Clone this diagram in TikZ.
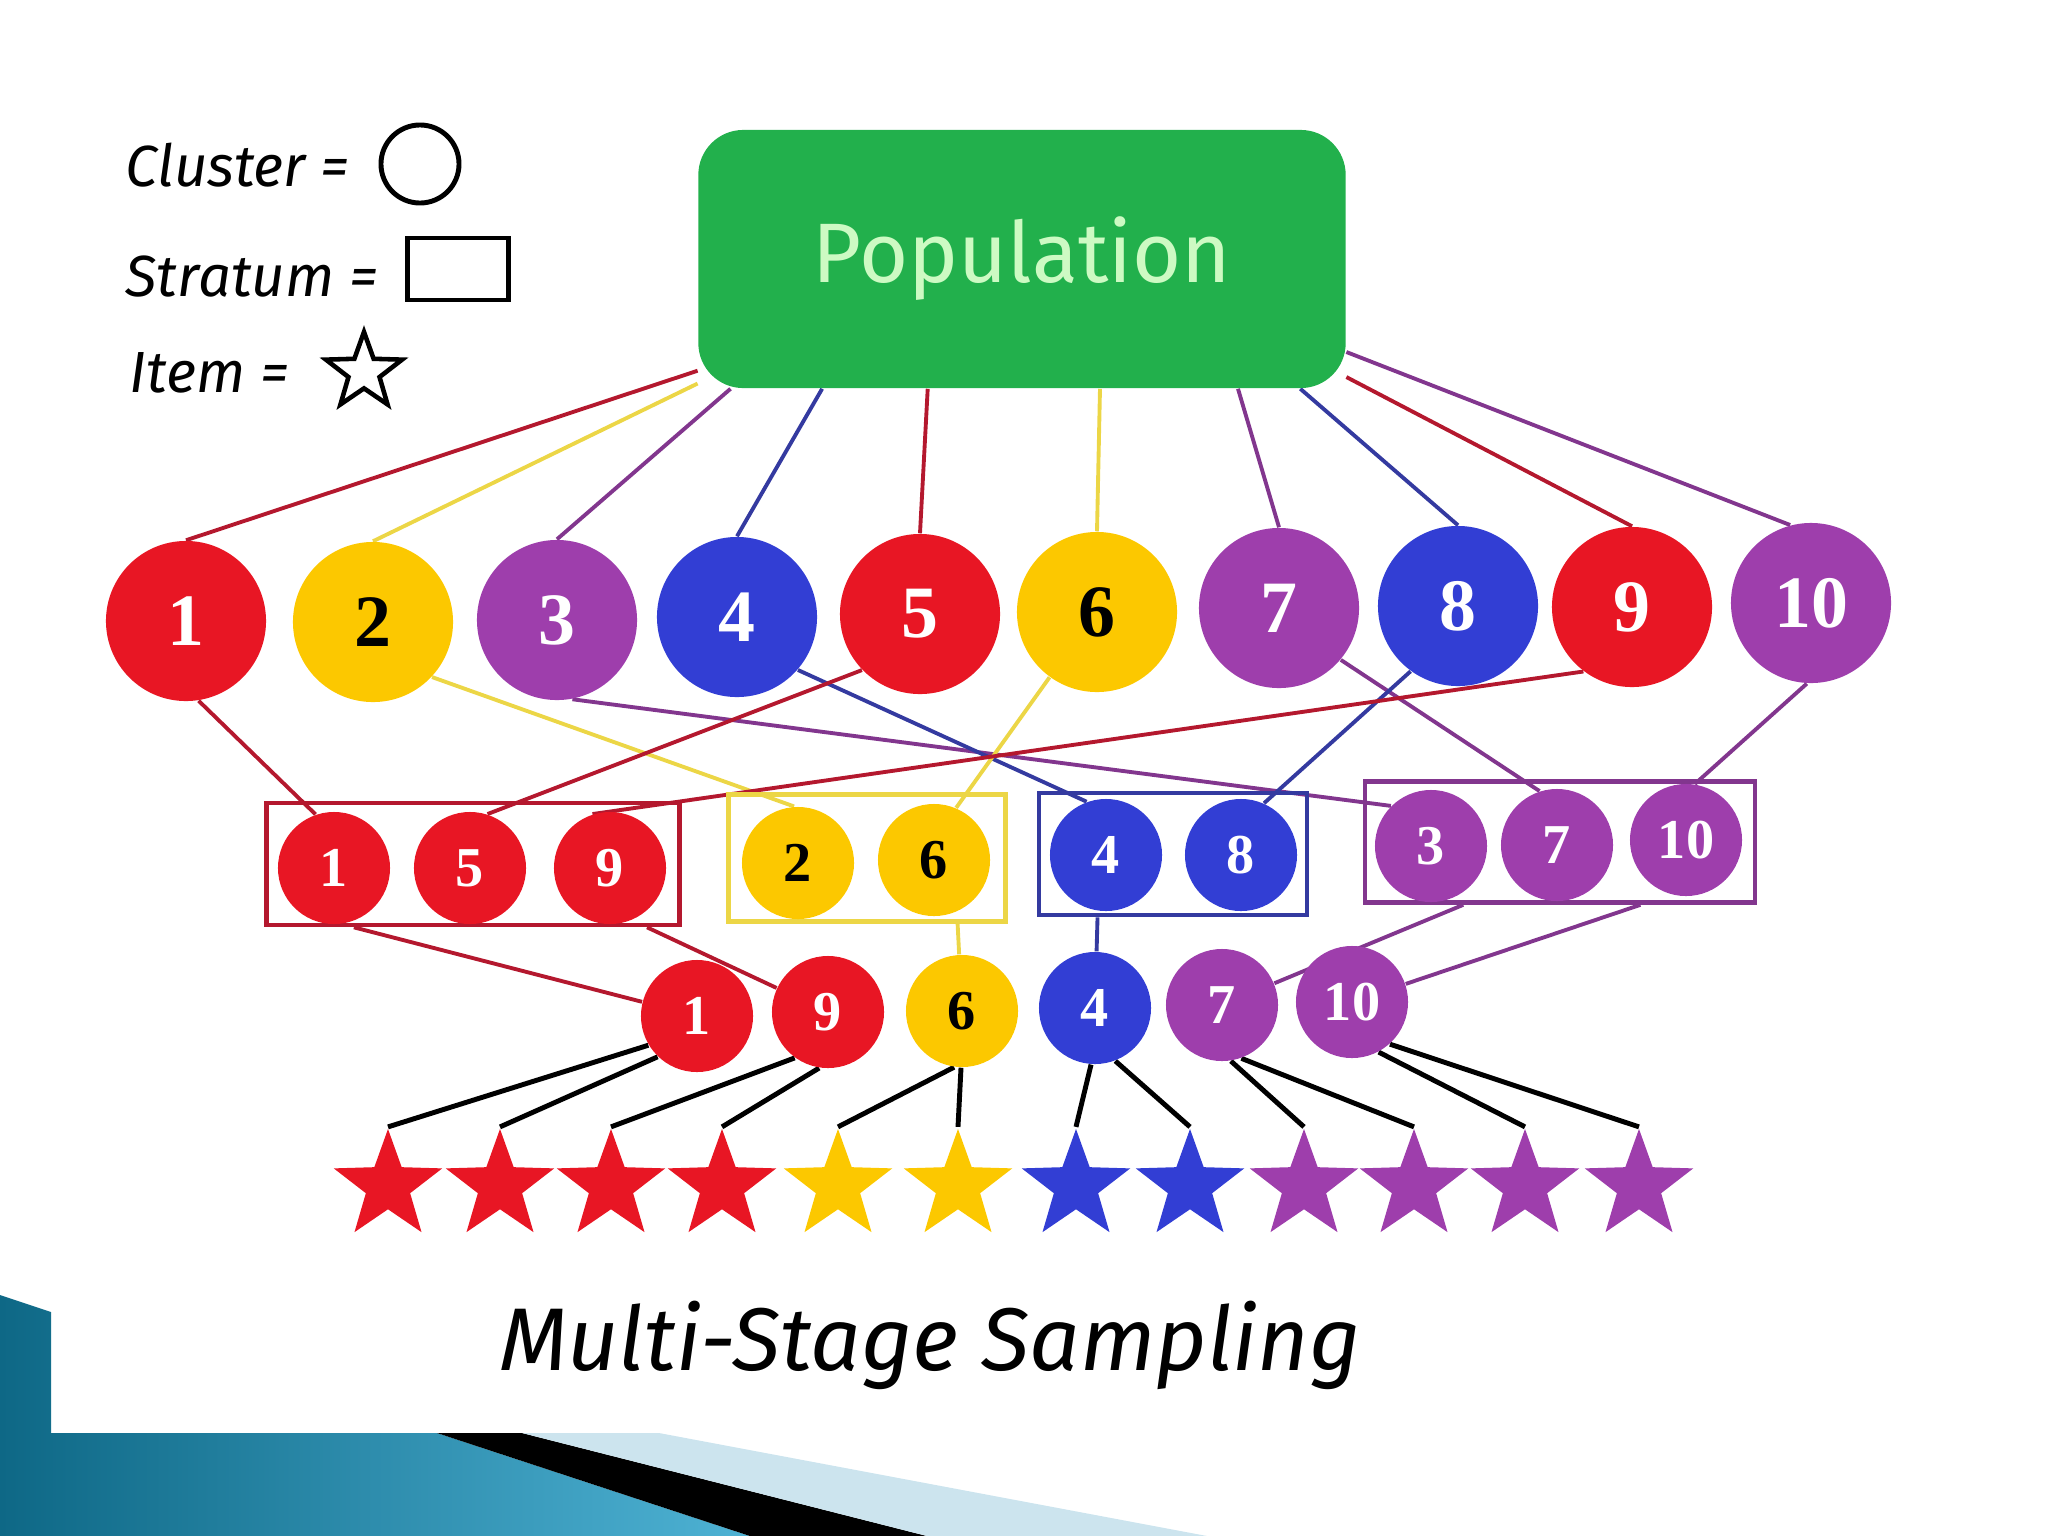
\documentclass[tikz,border=0pt]{standalone}
\usepackage{fontspec}
\usepackage{xcolor}
\usepackage{tikz}
\usetikzlibrary{shapes.geometric}
\newfontfamily\handfont{Fira Sans}
\newfontfamily\numfont{Liberation Serif}
\definecolor{cred}{RGB}{232,22,36}
\definecolor{cyellow}{RGB}{252,200,0}
\definecolor{cpurple}{RGB}{158,62,172}
\definecolor{cblue}{RGB}{50,62,212}
\definecolor{cgreen}{RGB}{34,176,76}
\definecolor{cmint}{RGB}{205,250,195}
\definecolor{clred}{RGB}{180,24,46}
\definecolor{clyellow}{RGB}{236,214,70}
\definecolor{clpurple}{RGB}{130,54,142}
\definecolor{clblue}{RGB}{52,58,160}
\definecolor{tealdark}{RGB}{14,104,134}
\definecolor{teallight}{RGB}{78,178,212}
\definecolor{palestripe}{RGB}{204,228,238}
\pgfdeclarelayer{back}
\pgfsetlayers{back,main}
\tikzstyle{bigclus} = [circle, minimum size=1.6cm, inner sep=0pt, text=white,
font=\numfont\bfseries\fontsize{21}{21}\selectfont]
\tikzstyle{smallclus} = [circle, minimum size=1.12cm, inner sep=0pt, text=white,
font=\numfont\bfseries\fontsize{16}{16}\selectfont]
\tikzstyle{stratum} = [rectangle, line width=1.3pt, inner sep=0pt]
\tikzstyle{item} = [star, star points=5, star point ratio=2.45, minimum size=1.14cm, inner sep=0pt]
\tikzstyle{legendtext} = [anchor=west, inner sep=0pt, font=\handfont\itshape\fontsize{16.5}{16.5}\selectfont]
\tikzstyle{link} = [line width=1.1pt]
\tikzstyle{pick} = [black, line width=1.4pt]

\begin{document}
\begin{tikzpicture}[x=0.01cm, y=-0.01cm]
        \useasboundingbox (0,0) rectangle (2048,1536);
        \shade[left color=tealdark, right color=teallight]
            (0,1295) -- (51,1312) -- (51,1433) -- (437,1433) -- (750,1536) -- (0,1536) -- cycle;
        \fill[black] (437,1433) -- (522,1433) -- (927,1536) -- (750,1536) -- cycle;
        \fill[palestripe] (522,1433) -- (659,1433) -- (1207,1536) -- (927,1536) -- cycle;

        \node[legendtext] (lclus) at (125,165) {Cluster =};
        \node[circle, draw, line width=1.4pt, minimum size=0.78cm] (lcirc) at (420,164) {};
        \node[legendtext] (lstrat) at (125,277) {Stratum =};
        \node[draw, line width=1.4pt, minimum width=1.01cm, minimum height=0.62cm] (lrect) at (458,269) {};
        \node[legendtext] (litem) at (129,373) {Item =};
        \node[item, draw, fill=white, line width=1.3pt, minimum size=0.8cm] (lstar) at (364,372) {};

        \node[rectangle, rounded corners=0.45cm, fill=cgreen, minimum width=6.47cm, minimum height=2.58cm,
            text=cmint, font=\handfont\fontsize{24}{24}\selectfont] (pop) at (1022,259) {Population};

        \node[bigclus, fill=cred] (t1) at (186,621) {1};
        \node[bigclus, fill=cyellow, text=black] (t2) at (373,622) {2};
        \node[bigclus, fill=cpurple] (t3) at (557,620) {3};
        \node[bigclus, fill=cblue] (t4) at (737,617) {4};
        \node[bigclus, fill=cred] (t5) at (920,614) {5};
        \node[bigclus, fill=cyellow, text=black] (t6) at (1097,612) {6};
        \node[bigclus, fill=cpurple] (t7) at (1279,608) {7};
        \node[bigclus, fill=cblue] (t8) at (1458,606) {8};
        \node[bigclus, fill=cred] (t9) at (1632,607) {9};
        \node[bigclus, fill=cpurple] (t10) at (1811,603) {10};

        \node[stratum, draw=clred, minimum width=4.13cm, minimum height=1.22cm] (rbox) at (473,864) {};
        \node[stratum, draw=clyellow, minimum width=2.77cm, minimum height=1.27cm] (ybox) at (867,858) {};
        \node[stratum, draw=clblue, minimum width=2.68cm, minimum height=1.22cm] (bbox) at (1173,854) {};
        \node[stratum, draw=clpurple, minimum width=3.90cm, minimum height=1.21cm] (pbox) at (1560,842) {};

        \node[smallclus, fill=cred] (m1) at (334,868) {1};
        \node[smallclus, fill=cred] (m5) at (470,868) {5};
        \node[smallclus, fill=cred] (m9) at (610,868) {9};
        \node[smallclus, fill=cyellow, text=black] (m2) at (798,863) {2};
        \node[smallclus, fill=cyellow, text=black] (m6) at (934,860) {6};
        \node[smallclus, fill=cblue] (m4) at (1106,855) {4};
        \node[smallclus, fill=cblue] (m8) at (1241,855) {8};
        \node[smallclus, fill=cpurple] (m3) at (1431,846) {3};
        \node[smallclus, fill=cpurple] (m7) at (1557,845) {7};
        \node[smallclus, fill=cpurple] (m10) at (1686,840) {10};

        \node[smallclus, fill=cred] (b1) at (697,1016) {1};
        \node[smallclus, fill=cred] (b9) at (828,1012) {9};
        \node[smallclus, fill=cyellow, text=black] (b6) at (962,1011) {6};
        \node[smallclus, fill=cblue] (b4) at (1095,1008) {4};
        \node[smallclus, fill=cpurple] (b7) at (1222,1005) {7};
        \node[smallclus, fill=cpurple] (b10) at (1352,1002) {10};

        \node[item, fill=cred] (s1) at (388,1186) {};
        \node[item, fill=cred] (s2) at (500,1186) {};
        \node[item, fill=cred] (s3) at (611,1186) {};
        \node[item, fill=cred] (s4) at (722,1186) {};
        \node[item, fill=cyellow] (s5) at (838,1186) {};
        \node[item, fill=cyellow] (s6) at (958,1186) {};
        \node[item, fill=cblue] (s7) at (1076,1186) {};
        \node[item, fill=cblue] (s8) at (1190,1186) {};
        \node[item, fill=cpurple] (s9) at (1304,1186) {};
        \node[item, fill=cpurple] (s10) at (1414,1186) {};
        \node[item, fill=cpurple] (s11) at (1525,1186) {};
        \node[item, fill=cpurple] (s12) at (1639,1186) {};

        \node[font=\handfont\itshape\fontsize{25.3}{25.3}\selectfont] (title) at (930,1345) {Multi-Stage Sampling};

        \begin{pgfonlayer}{back}
            \draw[link, clred] (pop.199) -- (t1.north);
            \draw[link, clyellow] (pop.201) -- (t2.north);
            \draw[link, clpurple] (pop.204) -- (t3.north);
            \draw[link, clblue] (pop.213) -- (t4.north);
            \draw[link, clred] (pop.234) -- (t5.north);
            \draw[link, clyellow] (pop.301) -- (t6.north);
            \draw[link, clpurple] (pop.329) -- (t7.north);
            \draw[link, clblue] (pop.335) -- (t8.north);
            \draw[link, clred] (pop.340) -- (t9.north);
            \draw[link, clpurple] (pop.344) -- (t10.105);

            \draw[link, clred] (t1.-81) -- (m1.109);
            \draw[link, clyellow] (t2.-43) -- (m2.94);
            \draw[link, clpurple] (t3.-79) -- (m3.135);
            \draw[link, clblue] (t4.-41) -- (m4.110);
            \draw[link, clred] (t5.-136) -- (m5.72);
            \draw[link, clyellow] (t6.-126) -- (m6.67);
            \draw[link, clpurple] (t7.-40) -- (m7.108);
            \draw[link, clblue] (t8.-126) -- (m8.66);
            \draw[link, clred] (t9.-127) -- (m9.108);
            \draw[link, clpurple] (t10.-93) -- (m10.81);

            \draw[link, clred] (rbox.208.6) -- (b1);
            \draw[link, clred] (rbox.-20) -- (b9);
            \draw[link, clyellow] (ybox.-36) -- (b6);
            \draw[link, clblue] (bbox.220) -- (b4);
            \draw[link, clpurple] (pbox.213.3) -- (b7);
            \draw[link, clpurple] (pbox.-38.9) -- (b10);

            \draw[pick] (b1.211) -- (s1.north);
            \draw[pick] (b1.226) -- (s2.north);
            \draw[pick] (b9.234) -- (s3.north);
            \draw[pick] (b9.261) -- (s4.north);
            \draw[pick] (b6.262) -- (s5.north);
            \draw[pick] (b6.269) -- (s6.north);
            \draw[pick] (b4.266) -- (s7.north);
            \draw[pick] (b4.291) -- (s8.north);
            \draw[pick] (b7.279) -- (s9.north);
            \draw[pick] (b7.290) -- (s10.north);
            \draw[pick] (b10.-62) -- (s11.north);
            \draw[pick] (b10.-48) -- (s12.north);
        \end{pgfonlayer}
    \end{tikzpicture}
\end{document}
